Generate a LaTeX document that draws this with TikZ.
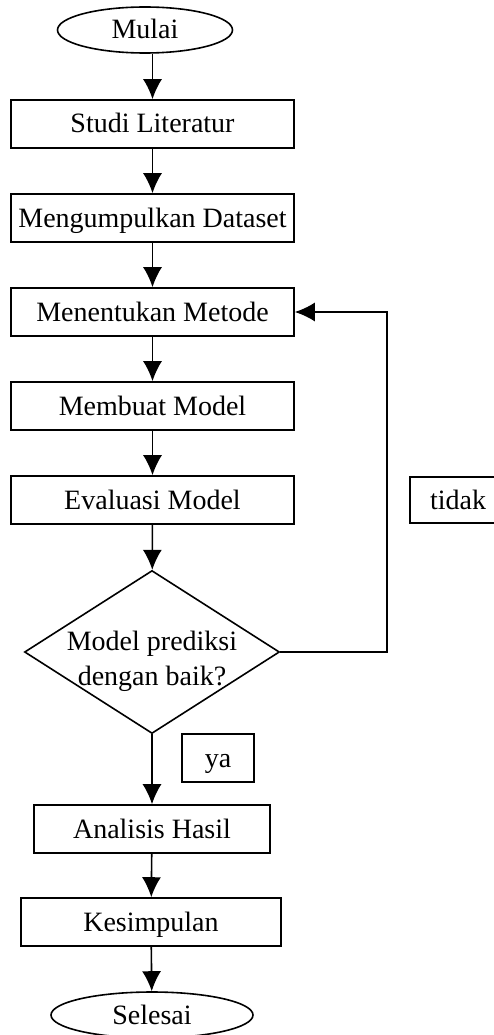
\documentclass[tikz,border=0pt]{standalone}
\usepackage{fontspec}
\setmainfont{Liberation Serif}
\usetikzlibrary{shapes.geometric,arrows.meta}

\begin{document}
\begin{tikzpicture}[x=1pt,y=1pt,
	font=\fontsize{28}{35}\selectfont,
	proses/.style={draw,rectangle,line width=1.6pt,minimum height=48pt,inner sep=0pt,text height=22pt,text depth=4pt},
	terminal/.style={draw,ellipse,line width=1.6pt,minimum height=46pt,inner sep=0pt,text height=22pt,text depth=4pt},
	keputusan/.style={draw,diamond,line width=1.6pt,minimum width=255pt,minimum height=163pt,inner sep=0pt},
	panah/.style={line width=1.6pt,-{Latex[length=20pt,width=19pt]}}]
	\useasboundingbox (0,0) rectangle (494,-1035);
	
	\node[terminal,minimum width=175pt] (mulai) at (145,-30) {Mulai};
	\node[proses,minimum width=283pt] (studi) at (152.5,-124) {Studi Literatur};
	\node[proses,minimum width=283pt] (dataset) at (152.5,-218) {Mengumpulkan Dataset};
	\node[proses,minimum width=283pt] (metode) at (152.5,-312) {Menentukan Metode};
	\node[proses,minimum width=283pt] (model) at (152.5,-406) {Membuat Model};
	\node[proses,minimum width=283pt] (evaluasi) at (152.5,-500) {Evaluasi Model};
	\node[keputusan] (cek) at (152,-652) {};
	\node[align=center] (cektext) at (152,-661) {Model prediksi\\dengan baik?};
	\node[proses,minimum width=236pt] (analisis) at (152,-829) {Analisis Hasil};
	\node[proses,minimum width=260pt] (kesimpulan) at (151,-922) {Kesimpulan};
	\node[terminal,minimum width=202pt] (selesai) at (152,-1015) {Selesai};
	
	\node[proses,minimum width=72pt] (ya) at (218,-758) {ya};
	\node[proses,minimum width=96pt,minimum height=46pt] (tidak) at (458,-500) {tidak};
	
	\coordinate (balik) at (387,-312);
	
	\draw[panah] (studi.north |- mulai.south) -- (studi.north);
	\draw[panah] (studi) -- (dataset);
	\draw[panah] (dataset) -- (metode);
	\draw[panah] (metode) -- (model);
	\draw[panah] (model) -- (evaluasi);
	\draw[panah] (evaluasi) -- (cek);
	\draw[panah] (cek) -- (analisis);
	\draw[panah] (analisis) -- (kesimpulan);
	\draw[panah] (kesimpulan) -- (selesai);
	\draw[panah] (cek.east) -| (balik) -- (metode.east);
	
\end{tikzpicture}
\end{document}
